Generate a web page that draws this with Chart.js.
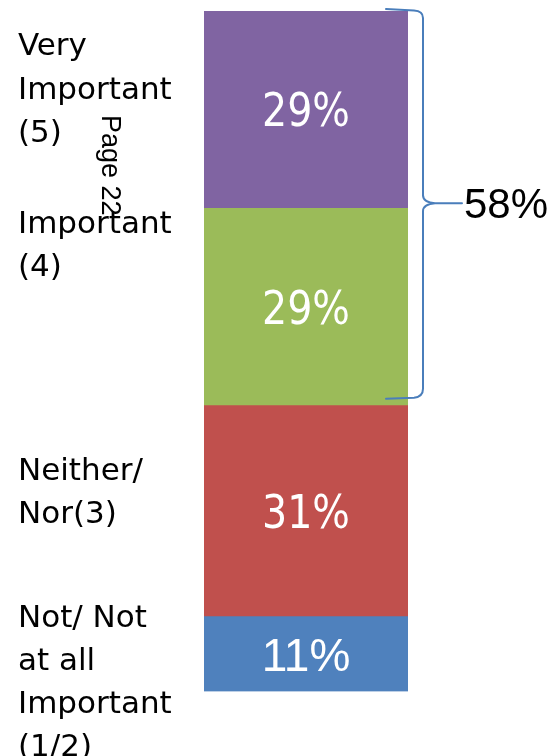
<!DOCTYPE html>
<html>
<head>
<meta charset="utf-8">
<title>Importance rating</title>
<script src="https://cdn.jsdelivr.net/npm/chart.js@4/dist/chart.umd.min.js"></script>
<style>
  html, body { margin: 0; padding: 0; background: #ffffff; }
  #wrap { width: 551px; height: 756px; position: relative; }
</style>
</head>
<body>
<div id="wrap"><canvas id="chart" width="551" height="756"></canvas></div>
<script>
// Rating groups, stacked from the bottom of the bar upwards
const categories = ['Not/ Not at all Important (1/2)', 'Neither/ Nor(3)', 'Important (4)', 'Very Important (5)'];
const shares = [11, 31, 29, 29];
const segmentColors = ['#4F81BD', '#C0504D', '#9BBB59', '#8064A2'];
// Side captions, one array of lines per group (top to bottom on the page)
const captionLines = [
  ['Very', 'Important', '(5)'],
  ['Important', '(4)'],
  ['Neither/', 'Nor(3)'],
  ['Not/ Not', 'at all', 'Important', '(1/2)']
];
const captionBaselines = [[55, 99, 142], [233, 276], [480, 523], [627, 670, 713, 756]];
const bracketGroups = [2, 3]; // Important + Very Important
const bracketTotal = bracketGroups.reduce((s, i) => s + shares[i], 0);
const pageNote = 'Page 22';

const datasets = categories.map((name, i) => ({
  label: name,
  data: [shares[i]],
  backgroundColor: segmentColors[i],
  borderWidth: 0,
  barPercentage: 1,
  categoryPercentage: 1
}));

// Percent labels inside each segment
const segmentLabels = {
  id: 'segmentLabels',
  afterDatasetsDraw(chart) {
    const ctx = chart.ctx;
    ctx.save();
    ctx.fillStyle = '#ffffff';
    ctx.textAlign = 'center';
    ctx.textBaseline = 'alphabetic';
    chart.data.datasets.forEach((ds, i) => {
      const bar = chart.getDatasetMeta(i).data[0];
      const cy = (bar.y + bar.base) / 2;
      const text = ds.data[0] + '%';
      ctx.save();
      if (i === 0) {
        ctx.font = '46px "Liberation Sans", Arial, sans-serif';
        ctx.translate(bar.x, cy + 16.5);
      } else {
        ctx.font = '46px "DejaVu Sans", sans-serif';
        ctx.translate(bar.x, cy + 16.8);
        ctx.scale(0.86, 1);
      }
      ctx.fillText(text, 0, 0);
      ctx.restore();
    });
    ctx.restore();
  }
};

// Curly bracket grouping the top two segments, captions and page note
const annotations = {
  id: 'annotations',
  afterDraw(chart) {
    const ctx = chart.ctx;
    const y = chart.scales.y;
    const area = chart.chartArea;

    // bracket
    const top = y.getPixelForValue(100) - 2;
    const bot = y.getPixelForValue(100 - bracketTotal) - 8;
    const mid = (top + bot) / 2;
    const x0 = area.right - 22;
    const xv = area.right + 15;
    const xt = area.right + 54;
    ctx.save();
    ctx.strokeStyle = '#4A7EBB';
    ctx.lineWidth = 2;
    ctx.lineCap = 'round';
    ctx.beginPath();
    ctx.moveTo(x0, top);
    ctx.lineTo(xv - 9, top + 1.5);
    ctx.quadraticCurveTo(xv, top + 2, xv, top + 9);
    ctx.lineTo(xv, mid - 8);
    ctx.quadraticCurveTo(xv, mid - 1, xv + 12, mid);
    ctx.lineTo(xt, mid);
    ctx.moveTo(xv + 12, mid);
    ctx.quadraticCurveTo(xv, mid + 1, xv, mid + 8);
    ctx.lineTo(xv, bot - 9);
    ctx.quadraticCurveTo(xv, bot - 1, xv - 9, bot);
    ctx.lineTo(x0, bot + 1);
    ctx.stroke();

    ctx.fillStyle = '#000000';
    ctx.font = '42px "Liberation Sans", Arial, sans-serif';
    ctx.textAlign = 'left';
    ctx.textBaseline = 'alphabetic';
    ctx.fillText(bracketTotal + '%', xt + 2, mid + 15);

    // side captions
    ctx.font = '31px "DejaVu Sans", sans-serif';
    captionLines.forEach((lines, g) => {
      lines.forEach((line, k) => {
        ctx.fillText(line, 18, captionBaselines[g][k]);
      });
    });

    // vertical page note
    ctx.font = '27px "Liberation Sans", Arial, sans-serif';
    ctx.translate(102, 115);
    ctx.rotate(Math.PI / 2);
    ctx.fillText(pageNote, 0, 0);
    ctx.restore();
  }
};

new Chart(document.getElementById('chart'), {
  type: 'bar',
  data: { labels: [''], datasets },
  options: {
    responsive: false,
    animation: false,
    events: [],
    layout: { padding: { left: 204, right: 143, top: 11, bottom: 64.5 } },
    plugins: { legend: { display: false }, tooltip: { enabled: false } },
    scales: {
      x: { stacked: true, display: false },
      y: { stacked: true, display: false, min: 0, max: 100 }
    }
  },
  plugins: [segmentLabels, annotations]
});
</script>
</body>
</html>
